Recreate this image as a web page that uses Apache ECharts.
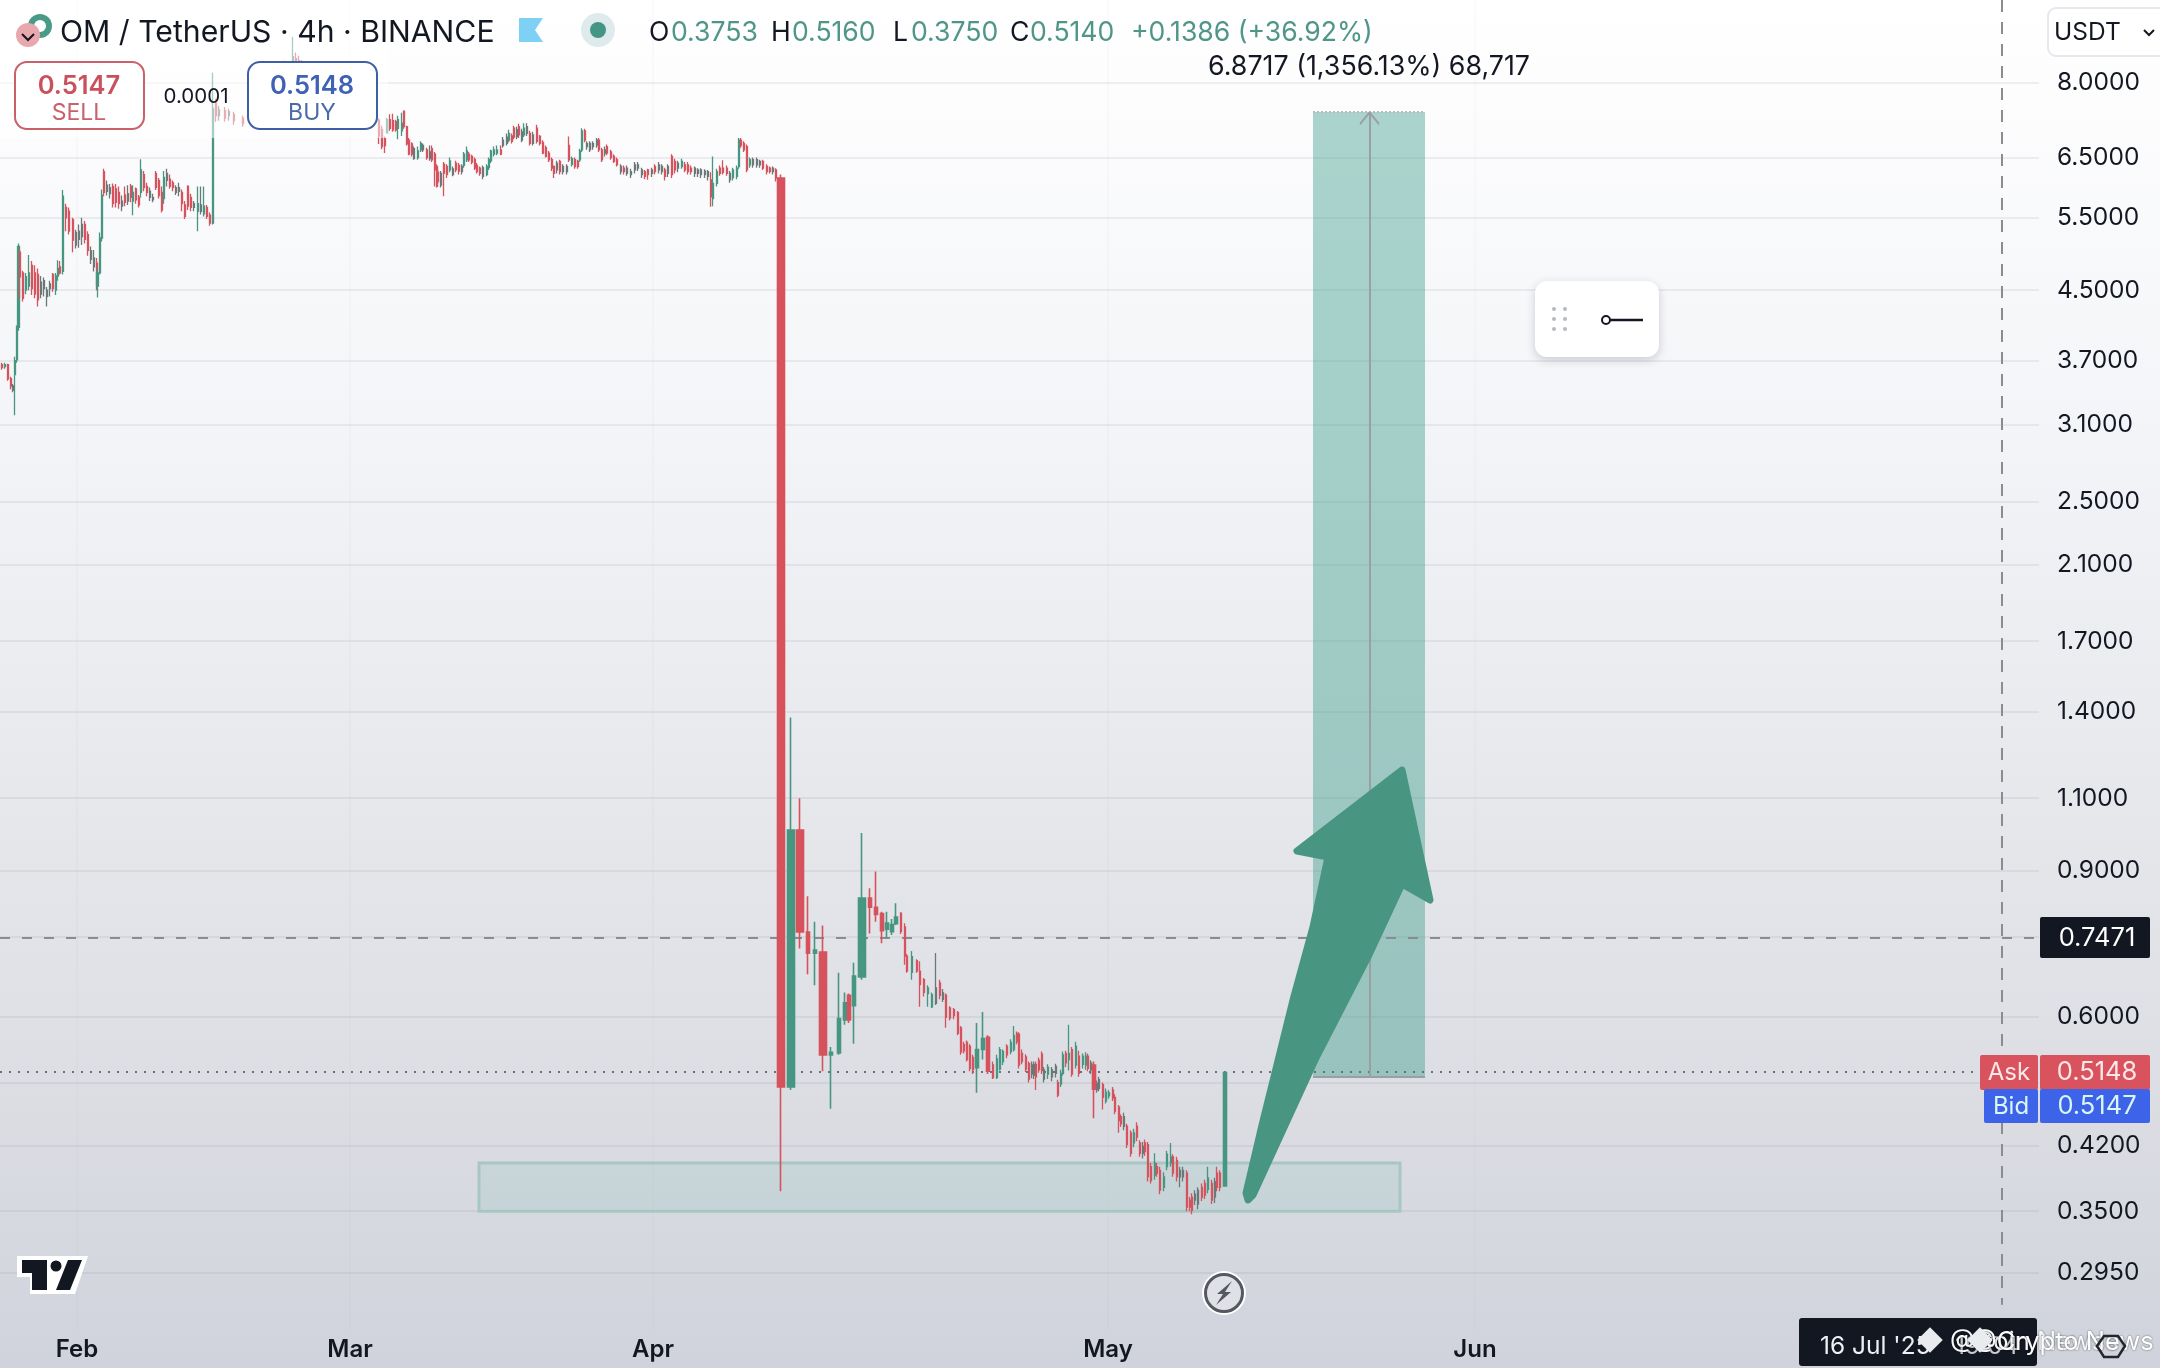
<!DOCTYPE html>
<html><head><meta charset="utf-8">
<style>html,body{margin:0;padding:0;background:#fff}#c{width:2160px;height:1368px}</style>
<script src="https://cdn.jsdelivr.net/npm/echarts@6/dist/echarts.min.js"></script>
</head><body><div id="c"></div>
<script>
// ---- axis values ----
const priceTicks = [8, 6.5, 5.5, 4.5, 3.7, 3.1, 2.5, 2.1, 1.7, 1.4, 1.1, 0.9, 0.75, 0.6, 0.5, 0.42, 0.35, 0.295];
const monthLabels = ['Feb', 'Mar', 'Apr', 'May', 'Jun'];
const monthSlots = [77, 350, 653, 1108, 1475];

// ---- reference levels ----
const lastPrice = 0.7471, askPrice = 0.5148, bidPrice = 0.5147;
const targetBox = {from: 1313, to: 1425, mid: 1369.5, low: 0.508, high: 7.376};
const supportZone = {from: 479, to: 1400, low: 0.35, high: 0.40};

// ---- candles: [slot, open, close, low, high] ----
const febCandles = [
[2,3.66,3.63,3.61,3.68],[5,3.64,3.66,3.62,3.68],[8,3.66,3.52,3.50,3.67],[11,3.52,3.45,3.42,3.54],
[15,3.56,3.70,3.18,3.74],[17,3.71,4.06,3.68,4.08],[18.5,4.06,5.08,4.02,5.12],
[20,5.00,4.67,4.40,5.04],[23,4.72,4.40,4.36,4.75],[26,4.50,4.67,4.45,4.72],[29,4.55,4.72,4.50,4.96],
[32,4.82,4.52,4.44,4.88],[35,4.72,4.45,4.40,4.82],[38,4.70,4.38,4.30,4.78],[53,4.70,4.52,4.48,4.72],
[56,4.50,4.68,4.44,4.72],[58,4.68,4.78,4.62,4.89],[60,4.80,4.72,4.70,4.88],[63,4.74,5.84,4.70,5.94],
[66,5.66,5.50,5.30,5.72],[69,5.60,5.30,5.25,5.66],[73,5.47,5.17,5.00,5.50],[85,5.40,5.18,5.12,5.45],
[88,5.25,5.02,4.95,5.30],[97,4.85,4.55,4.50,4.92],[97.5,4.55,4.72,4.41,4.78],[100,4.72,5.20,4.70,5.28],
[102,5.20,5.85,5.15,5.95],[104,6.25,5.90,5.84,6.30],[113,6.00,5.72,5.66,6.05],[116,5.96,5.74,5.66,6.04],
[119,5.90,5.72,5.64,6.00],[125,5.86,5.74,5.68,6.00],[131,6.00,5.82,5.74,6.04],[133,5.76,5.90,5.54,6.02],
[136,5.96,5.78,5.72,5.98],[139,5.82,5.70,5.66,5.86],[141,5.90,6.28,5.82,6.47],[144,6.20,5.98,5.92,6.26],
[147,6.00,5.90,5.84,6.06],[156,6.22,5.98,5.94,6.26],[159,6.10,5.85,5.80,6.14],[162,5.90,5.62,5.58,6.00],
[164,5.80,6.15,5.72,6.26],[170,6.12,6.00,5.96,6.20],[173,6.06,5.98,5.92,6.10],[182,5.90,5.72,5.60,5.95],
[185,5.70,5.52,5.48,5.76],[188,6.00,5.68,5.62,6.02],[191,5.82,5.66,5.60,5.88],[198,5.60,5.72,5.30,6.00],
[204,5.56,5.68,5.52,6.00],[207,5.66,5.52,5.48,5.70],[210,5.54,5.42,5.38,5.58],[213,5.42,7.45,5.40,8.22]
];
const peakCandles = [
[216,7.55,7.30,7.18,7.65],[225,7.40,7.25,7.18,7.48],[234,7.32,7.20,7.12,7.38],[243,7.25,7.14,7.08,7.30],
[255,7.30,7.70,7.25,7.80],[270,7.70,8.10,7.65,8.20],[285,8.10,8.40,8.05,8.50],[293,8.40,8.60,8.30,9.08],
[296,8.55,8.45,8.40,8.70],[299,8.50,8.42,8.38,8.62],[302,8.46,8.38,8.34,8.52],[320,8.38,8.10,8.05,8.45],
[340,8.10,7.75,7.70,8.18],[360,7.75,7.40,7.35,7.82],[372,7.40,7.25,7.20,7.46]
];
const marCandles = [
[379,7.21,6.90,6.75,7.25],[382,7.02,6.70,6.65,7.10],[385,6.85,6.72,6.58,6.89],[387,6.96,7.22,6.95,7.26],
[390,7.22,7.05,7.00,7.33],[393,7.20,7.02,6.98,7.34],[396,7.18,7.02,6.98,7.22],[398,7.05,7.22,6.84,7.30],
[402,7.00,7.15,6.90,7.36],[404,7.39,7.08,7.04,7.40],[407,7.08,6.75,6.72,7.10],[409,6.82,6.56,6.54,6.86],
[412,6.75,6.56,6.52,6.78],[418,6.50,6.62,6.46,6.70],[421,6.64,6.76,6.60,6.80],[427,6.64,6.50,6.46,6.68],
[432,6.66,6.46,6.42,6.72],[435,6.56,6.28,6.00,6.60],[437,6.34,6.00,5.98,6.38],[438,6.24,6.08,6.04,6.30],
[444,6.38,6.22,5.84,6.42],[447,6.34,6.20,6.14,6.38],[450,6.28,6.44,6.24,6.50],[456,6.40,6.28,6.24,6.44],
[459,6.36,6.26,6.20,6.40],[464,6.36,6.56,6.32,6.60],[467,6.46,6.62,6.42,6.70],[469,6.56,6.46,6.42,6.60],
[472,6.52,6.42,6.38,6.55],[475,6.46,6.31,6.28,6.50],[477,6.36,6.25,6.22,6.40],[480,6.31,6.22,6.18,6.34],
[487,6.20,6.34,6.17,6.38],[489,6.32,6.46,6.28,6.50],[491,6.44,6.62,6.40,6.64],[494,6.56,6.64,6.52,6.70],
[497,6.58,6.64,6.54,6.72],[501,6.64,6.56,6.54,6.72],[509,6.82,6.95,6.78,7.02],[512,6.90,6.80,6.76,6.95],
[514,7.05,6.88,6.84,7.10],[519,7.08,6.92,6.86,7.14],[524,6.92,7.05,6.88,7.15],[530,6.95,6.76,6.72,7.00],
[537,7.05,6.80,6.76,7.12],[540,6.89,6.76,6.72,6.92],[543,6.78,6.58,6.56,6.82],[546,6.68,6.52,6.50,6.72],
[549,6.58,6.46,6.42,6.62],[552,6.46,6.31,6.26,6.50],[554,6.34,6.22,6.14,6.36],[560,6.43,6.25,6.20,6.46],
[569,6.72,6.46,6.42,6.89],[572,6.38,6.48,6.34,6.52],[575,6.46,6.34,6.30,6.50],[578,6.43,6.34,6.30,6.46],
[580,6.46,6.62,6.42,6.66],[582,6.64,7.00,6.60,7.05],[585,7.00,6.82,6.78,7.04],[599,6.82,6.64,6.60,6.86],
[602,6.64,6.46,6.42,6.68],[607,6.70,6.58,6.54,6.74],[611,6.60,6.50,6.46,6.64],[614,6.52,6.43,6.40,6.56],
[617,6.46,6.37,6.34,6.50],[624,6.31,6.25,6.20,6.36],[645,6.25,6.17,6.12,6.28],[648,6.28,6.20,6.11,6.30],
[655,6.34,6.25,6.20,6.38],[665,6.28,6.17,6.10,6.32],[672,6.52,6.20,6.14,6.56],[675,6.43,6.28,6.22,6.48],
[682,6.34,6.43,6.30,6.48],[685,6.37,6.28,6.24,6.42],[688,6.37,6.25,6.20,6.42],[691,6.31,6.25,6.20,6.36]
];
const aprCandles = [
[711,6.11,5.83,5.67,6.24],[713,5.80,6.05,5.68,6.52],[717,6.05,6.25,6.00,6.30],[720,6.31,6.22,6.18,6.36],
[723,6.31,6.24,6.20,6.45],[727,6.31,6.22,6.18,6.36],[733,6.15,6.28,6.10,6.32],[737,6.17,6.31,6.12,6.36],
[739,6.34,6.82,6.30,6.86],[741,6.82,6.72,6.68,6.86],[744,6.76,6.64,6.60,6.80],[747,6.70,6.28,6.24,6.74],
[750,6.37,6.46,6.32,6.50],[763,6.43,6.31,6.28,6.46],[767,6.34,6.25,6.20,6.38],[770,6.31,6.25,6.22,6.34],
[776,6.28,6.14,6.08,6.31],
[901,0.800,0.760,0.755,0.802],[905,0.770,0.710,0.693,0.778],[907,0.710,0.681,0.678,0.714],[912,0.679,0.709,0.665,0.720],
[917,0.701,0.681,0.678,0.704],[920,0.681,0.656,0.617,0.700],[924,0.665,0.642,0.635,0.668],[928,0.640,0.650,0.617,0.655],
[932,0.617,0.638,0.615,0.642],[940,0.659,0.637,0.630,0.665],[946,0.637,0.599,0.582,0.640],[950,0.615,0.598,0.594,0.618],
[954,0.612,0.602,0.596,0.615],[958,0.607,0.573,0.570,0.610],[961,0.582,0.544,0.540,0.585],[964,0.556,0.546,0.542,0.560],
[967,0.559,0.533,0.530,0.562],[970,0.553,0.520,0.516,0.556],[973,0.536,0.518,0.512,0.540]
];
const mayCandles = [
[993,0.525,0.507,0.505,0.530],[997,0.507,0.534,0.505,0.540],[1000,0.519,0.548,0.517,0.552],[1003,0.530,0.545,0.525,0.548],
[1007,0.553,0.540,0.535,0.556],[1011,0.545,0.559,0.541,0.564],[1014,0.548,0.570,0.545,0.585],[1017,0.573,0.560,0.556,0.576],
[1019,0.572,0.525,0.520,0.575],[1022,0.542,0.530,0.526,0.548],[1026,0.537,0.519,0.515,0.541],[1029,0.527,0.505,0.500,0.530],
[1036,0.526,0.508,0.490,0.530],[1039,0.532,0.518,0.514,0.536],[1042,0.541,0.517,0.512,0.545],[1048,0.512,0.522,0.505,0.526],
[1058,0.500,0.483,0.480,0.504],[1061,0.498,0.513,0.494,0.518],[1063,0.513,0.540,0.510,0.545],[1066,0.542,0.528,0.522,0.546],
[1069,0.533,0.542,0.517,0.587],[1072,0.548,0.512,0.508,0.552],[1076,0.525,0.553,0.520,0.560],[1079,0.538,0.513,0.508,0.546],
[1083,0.526,0.538,0.520,0.542],[1086,0.525,0.538,0.518,0.544],[1088,0.538,0.520,0.516,0.542],
[1103,0.497,0.480,0.464,0.500],[1106,0.475,0.487,0.472,0.492],[1109,0.482,0.486,0.478,0.490],[1113,0.490,0.479,0.475,0.494],
[1115,0.480,0.462,0.458,0.484],[1119,0.467,0.450,0.435,0.470],[1121,0.455,0.446,0.442,0.458],[1127,0.443,0.421,0.417,0.446],
[1131,0.435,0.411,0.407,0.438],[1134,0.423,0.435,0.418,0.440],[1137,0.443,0.430,0.425,0.448],[1140,0.423,0.411,0.407,0.426],
[1145,0.423,0.413,0.408,0.427],[1148,0.421,0.385,0.380,0.424],[1151,0.396,0.381,0.378,0.400],[1155,0.387,0.400,0.382,0.411],
[1157,0.396,0.389,0.385,0.400],[1160,0.392,0.371,0.367,0.396],[1164,0.374,0.385,0.370,0.390],[1167,0.396,0.410,0.392,0.414],
[1171,0.400,0.407,0.396,0.423],[1173,0.407,0.389,0.385,0.410],[1177,0.403,0.385,0.380,0.407],[1187,0.389,0.354,0.350,0.392],
[1190,0.361,0.354,0.350,0.364],[1192,0.364,0.351,0.347,0.368],[1202,0.374,0.364,0.360,0.378],[1205,0.378,0.366,0.362,0.382],
[1208,0.372,0.384,0.368,0.396],[1212,0.378,0.361,0.357,0.382],[1217,0.389,0.374,0.370,0.396],[1220,0.389,0.374,0.370,0.392]
];
// dense stretches where red and green bars blur into grey
const blendCandles = [
[13,3.45,3.41,3.39,3.47],[41,4.60,4.45,4.40,4.68],[44,4.52,4.62,4.42,4.66],[47,4.42,4.50,4.30,4.54],[50,4.52,4.58,4.42,4.62],
[76,5.10,5.28,5.05,5.32],[79,5.18,5.30,5.06,5.40],[82,5.22,5.40,5.10,5.50],[91,5.02,4.90,4.84,5.08],[94,4.92,4.80,4.74,5.03],
[107,6.02,5.92,5.85,6.10],[110,5.98,5.88,5.80,6.04],[122,5.76,5.68,5.60,5.85],[128,5.76,5.88,5.70,6.02],[150,5.92,5.82,5.76,5.98],
[153,5.82,5.78,5.74,5.88],[167,6.10,6.22,6.00,6.30],[176,5.98,5.90,5.86,6.02],[179,5.92,5.98,5.84,6.06],[194,5.72,5.66,5.60,5.76],
[201,5.70,5.60,5.55,6.00],[219,7.30,7.42,7.20,7.50],[229,7.30,7.38,7.20,7.44],[414,6.48,6.66,6.46,6.70],[423,6.72,6.64,6.60,6.76],
[430,6.60,6.48,6.44,6.72],[441,6.02,6.22,5.98,6.26],[453,6.30,6.20,6.17,6.34],[462,6.34,6.25,6.20,6.38],[483,6.32,6.17,6.12,6.36],
[503,6.72,6.82,6.68,6.88],[507,6.76,6.88,6.72,6.95],[517,7.02,6.89,6.84,7.08],[522,6.98,6.82,6.78,7.04],[527,7.08,6.95,6.90,7.15],
[533,6.92,6.76,6.72,6.98],[557,6.40,6.28,6.22,6.44],[563,6.34,6.25,6.20,6.38],[567,6.34,6.25,6.20,6.38],[587,6.76,6.70,6.64,6.80],
[590,6.76,6.64,6.60,6.80],[593,6.76,6.70,6.64,6.80],[597,6.82,6.73,6.68,6.86],[605,6.64,6.58,6.52,6.70],[621,6.34,6.25,6.20,6.38],
[627,6.31,6.22,6.18,6.36],[631,6.25,6.20,6.14,6.30],[635,6.37,6.28,6.22,6.42],[638,6.37,6.31,6.26,6.42],[642,6.28,6.20,6.14,6.32],
[652,6.28,6.22,6.16,6.32],[659,6.37,6.28,6.22,6.42],[662,6.34,6.25,6.20,6.38],[668,6.34,6.22,6.16,6.38],[678,6.40,6.31,6.24,6.44],
[695,6.31,6.22,6.16,6.34],[698,6.28,6.22,6.16,6.31],[701,6.28,6.20,6.14,6.31],[705,6.26,6.20,6.14,6.29],[708,6.25,6.17,6.10,6.28],
[730,6.22,6.11,6.06,6.26],[753,6.46,6.37,6.32,6.50],[757,6.46,6.37,6.32,6.50],[760,6.43,6.37,6.32,6.46],[773,6.31,6.25,6.20,6.34],
[936,0.623,0.650,0.620,0.716],[943,0.641,0.630,0.625,0.648],
[1032,0.525,0.512,0.506,0.530],[1034,0.526,0.510,0.505,0.530],[1044,0.518,0.505,0.500,0.522],[1052,0.518,0.508,0.502,0.522],
[1056,0.523,0.513,0.507,0.527],[1091,0.528,0.518,0.512,0.532],[1097,0.499,0.490,0.486,0.503],[1099,0.504,0.492,0.488,0.508],
[1124,0.455,0.443,0.438,0.460],[1143,0.419,0.411,0.405,0.424],[1180,0.392,0.385,0.374,0.396],[1183,0.392,0.385,0.380,0.396],
[1195,0.367,0.361,0.356,0.371],[1198,0.371,0.357,0.352,0.374],[1215,0.380,0.364,0.358,0.384]
];
const midCandles = [
[808,0.759,0.716,0.675,0.838],[815,0.716,0.722,0.655,0.781],[831,0.540,0.544,0.465,0.552],[839,0.543,0.597,0.540,0.678],
[854,0.619,0.672,0.557,0.697],[870,0.834,0.813,0.756,0.857],[876,0.813,0.797,0.781,0.898],[882,0.799,0.762,0.736,0.803],
[887,0.765,0.778,0.746,0.803],[892,0.760,0.775,0.753,0.787],[896,0.777,0.791,0.774,0.822],[845,0.595,0.624,0.587,0.642],
[849,0.637,0.595,0.590,0.640],[977,0.521,0.548,0.486,0.590],[983,0.548,0.565,0.533,0.608],[988,0.567,0.516,0.512,0.570],
[1094,0.525,0.491,0.453,0.530],[1225,0.3753,0.5140,0.3750,0.5160]
];
const wideCandles = [
[781,6.14,0.494,0.370,6.20],[791,0.494,1.007,0.490,1.376],[800,1.007,0.759,0.725,1.10],[823,0.718,0.540,0.516,0.773],[862,0.670,0.834,0.665,0.999]
];

// ---- drawing ----
const UP = '#469682', DOWN = '#d6525c', BLEND = '#6c7877', INK = '#131722';
const FONT = 'Inter';
const thin = [...febCandles, ...peakCandles, ...marCandles, ...aprCandles, ...mayCandles];
const toItem = r => [r[0], r[1], r[2], r[3], r[4]];
const candle = (name, rows, width, bw, up, down) => ({
  name, type: 'candlestick', data: rows.map(toItem), barWidth: width, z: 3, large: false, clip: true,
  itemStyle: {color: up, color0: down, borderColor: up, borderColor0: down, borderWidth: bw},
  emphasis: {disabled: true}, silent: true, animation: false
});

const chart = echarts.init(document.getElementById('c'), null, {renderer: 'canvas', width: 2160, height: 1368});

const T = (x, y, text, fontSize, fill, extra) => ({type: 'text', z: 50, x, y: y + 1.5, style: Object.assign({x: 0, y: 0, text, fontSize, fill, fontFamily: FONT, verticalAlign: 'middle', align: 'left'}, extra || {})});
const R = (x, y, w, h, fill, r, extra) => ({type: 'rect', z: 49, shape: {x, y, width: w, height: h, r: r || 0}, style: Object.assign({fill}, extra || {})});
const tag = (x, w, y, h, fill) => R(x, y, w, h, fill, 2);

const overlay = [
  // fade of the legend area
  R(0, 0, 388, 138, 'rgba(255,255,255,0.52)', 0),
  // icons
  {type: 'circle', z: 49, shape: {cx: 40, cy: 26, r: 12}, style: {fill: '#4a9a88'}},
  {type: 'circle', z: 49, shape: {cx: 40, cy: 26, r: 6}, style: {fill: '#fff'}},
  {type: 'circle', z: 50, shape: {cx: 28, cy: 35, r: 12}, style: {fill: '#e9a8ad'}},
  {type: 'polyline', z: 51, shape: {points: [[22, 34], [28, 40], [34, 34]]}, style: {stroke: INK, lineWidth: 2, fill: 'none'}},
  {type: 'polygon', z: 49, shape: {points: [[519, 18], [543, 18], [535, 30], [543, 42], [519, 42]]}, style: {fill: '#7fd0f5'}},
  {type: 'circle', z: 49, shape: {cx: 598, cy: 30, r: 17}, style: {fill: '#dfeaed'}},
  {type: 'circle', z: 50, shape: {cx: 598, cy: 30, r: 8}, style: {fill: '#459584'}},
  // header text
  T(60, 31, 'OM / TetherUS · 4h · BINANCE', 30.2, INK),
  T(649, 31, 'O', 26.6, INK), T(671, 31, '0.3753', 26.6, '#4f9688'),
  T(771, 31, 'H', 26.6, INK), T(792, 31, '0.5160', 26.6, '#4f9688'),
  T(893, 31, 'L', 26.6, INK), T(911, 31, '0.3750', 26.6, '#4f9688'),
  T(1010, 31, 'C', 26.6, INK), T(1030, 31, '0.5140', 26.6, '#4f9688'),
  T(1131, 31, '+0.1386 (+36.92%)', 26.6, '#4f9688'),
  // sell / buy
  R(15, 62, 129, 67, '#fff', 12, {stroke: '#c9606a', lineWidth: 2}),
  T(79, 84.5, '0.5147', 25.5, '#c8515c', {align: 'center', fontWeight: 600}),
  T(79, 112, 'SELL', 23, '#c8626c', {align: 'center'}),
  T(196, 95.5, '0.0001', 20.5, INK, {align: 'center'}),
  R(248, 62, 129, 67, '#fff', 12, {stroke: '#3f5ea8', lineWidth: 2}),
  T(312, 84.5, '0.5148', 25.5, '#3f62b5', {align: 'center', fontWeight: 600}),
  T(312, 112, 'BUY', 23, '#4a6aa8', {align: 'center'}),
  // currency button
  R(2048, 8, 120, 48, '#fff', 8, {stroke: '#e6e8ee', lineWidth: 2}),
  T(2054, 31.5, 'USDT', 24.5, INK),
  {type: 'polyline', z: 51, shape: {points: [[2144, 30], [2149, 35], [2154, 30]]}, style: {stroke: INK, lineWidth: 2, fill: 'none'}},
  // floating line tool
  R(1535, 281, 124, 76, '#fff', 12, {shadowBlur: 10, shadowColor: 'rgba(40,50,80,0.22)', shadowOffsetY: 3}),
  ...[1554, 1565].flatMap(x => [309, 319, 329].map(y => ({type: 'circle', z: 50, shape: {cx: x, cy: y, r: 2}, style: {fill: '#b5bac2'}}))),
  {type: 'circle', z: 51, shape: {cx: 1606, cy: 320, r: 4}, style: {fill: '#fff', stroke: INK, lineWidth: 2}},
  {type: 'line', z: 50, shape: {x1: 1610, y1: 320, x2: 1643, y2: 320}, style: {stroke: INK, lineWidth: 2.5}},
  // hand-drawn arrow
  {type: 'polygon', z: 40, shape: {points: [[1248, 1200], [1253, 1195], [1315, 1060], [1368, 957], [1402, 884], [1430, 900], [1402, 770], [1297, 851], [1328, 857], [1313, 927], [1293, 1000], [1262, 1125], [1246, 1193]]},
    style: {fill: '#489682', stroke: '#489682', lineWidth: 7, lineJoin: 'round'}},
  // tradingview mark
  {type: 'polygon', z: 49, shape: {points: [[17, 1256], [88, 1256], [75, 1294], [30, 1294], [30, 1277], [17, 1277]]}, style: {fill: '#fff'}},
  {type: 'polygon', z: 50, shape: {points: [[22, 1260], [47, 1260], [47, 1290], [32, 1290], [32, 1273], [22, 1273]]}, style: {fill: INK}},
  {type: 'circle', z: 50, shape: {cx: 56, cy: 1266, r: 5.5}, style: {fill: INK}},
  {type: 'polygon', z: 50, shape: {points: [[68, 1260], [82, 1260], [70, 1290], [56, 1290]]}, style: {fill: INK}},
  // lightning badge
  {type: 'circle', z: 49, shape: {cx: 1224, cy: 1293, r: 22}, style: {fill: '#fff'}},
  {type: 'circle', z: 50, shape: {cx: 1224, cy: 1293, r: 18.5}, style: {fill: '#dfe1e6', stroke: '#55595f', lineWidth: 3}},
  {type: 'polygon', z: 51, shape: {points: [[1232, 1281], [1217, 1294], [1223, 1294], [1216, 1305], [1231, 1292], [1225, 1292]]}, style: {fill: '#55595f'}},
  // price tags
  tag(2040, 110, 917, 41, INK), T(2097, 936.5, '0.7471', 25.5, '#fff', {align: 'center'}),
  tag(1980, 58, 1055, 35, '#d9535f'), tag(2040, 110, 1055, 35, '#d9535f'),
  T(2009, 1071, 'Ask', 24, '#fde8e8', {align: 'center'}), T(2097, 1071, '0.5148', 25.5, '#fde8e8', {align: 'center'}),
  tag(1984, 54, 1089, 34, '#3d63e8'), tag(2040, 110, 1089, 34, '#3d63e8'),
  T(2011, 1105, 'Bid', 24, '#d8f6f4', {align: 'center'}), T(2097, 1105, '0.5147', 25.5, '#d8f6f4', {align: 'center'}),
  // date tag and repost watermarks
  R(1799, 1318, 238, 48, INK, 3),
  T(1820, 1345, "16 Jul '25", 24.5, '#eef0f4'),
  T(1955, 1345, '19:04', 24.5, '#c9ccd2'),
  {type: 'polygon', z: 52, shape: {points: [[2097, 1346], [2104, 1336], [2118, 1336], [2125, 1346], [2118, 1357], [2104, 1357]]}, style: {fill: 'none', stroke: '#22262e', lineWidth: 2.5}},
  {type: 'rect', z: 53, rotation: Math.PI / 4, originX: 1930, originY: 1340, shape: {x: 1921, y: 1331, width: 18, height: 18}, style: {fill: '#e9ebef'}},
  {type: 'rect', z: 53, rotation: Math.PI / 4, originX: 1980, originY: 1340, shape: {x: 1971, y: 1331, width: 18, height: 18}, style: {fill: '#e9ebef'}},
  T(1950, 1341, '@Coin Newss', 25.5, '#f7f8fa', {textShadowBlur: 2, textShadowColor: 'rgba(0,0,0,0.6)'}),
  T(1972, 1341, '@Crypto News', 25.5, '#ffffff', {textShadowBlur: 2, textShadowColor: 'rgba(0,0,0,0.6)'})
];

const guide = {
  name: 'guides', type: 'line', data: [], z: 1, silent: true, animation: false,
  markArea: {silent: true, z: 1, animation: false, data: [
    [{xAxis: supportZone.from, yAxis: supportZone.high, itemStyle: {color: 'rgba(140,195,190,0.22)', borderColor: '#a8c7c4', borderWidth: 3}},
     {xAxis: supportZone.to, yAxis: supportZone.low}],
    [{xAxis: targetBox.from, yAxis: targetBox.high, itemStyle: {color: 'rgba(60,158,140,0.43)'},
      label: {show: true, position: 'top', distance: 31, formatter: '6.8717 (1,356.13%) 68,717', fontFamily: FONT, fontSize: 26.8, color: INK}},
     {xAxis: targetBox.to, yAxis: targetBox.low}]
  ]},
  markLine: {silent: true, animation: false, symbol: 'none', z: 2, label: {show: false}, data: [
    [{coord: [0, lastPrice], lineStyle: {color: '#8a8c92', width: 2, type: [10, 12]}}, {coord: [2039, lastPrice]}],
    [{coord: [0, askPrice], lineStyle: {color: '#66727a', width: 2, type: [2, 7]}}, {coord: [1980, askPrice]}],
    [{coord: [2002, 10.06], lineStyle: {color: '#8a8c92', width: 2, type: [12, 10]}}, {coord: [2002, 0.27]}],
    [{coord: [targetBox.from, targetBox.low], lineStyle: {color: '#9aa0a2', width: 2, type: 'solid'}}, {coord: [targetBox.to, targetBox.low]}],
    [{coord: [targetBox.from, targetBox.high], lineStyle: {color: '#b4bcbc', width: 2, type: [2, 2]}}, {coord: [targetBox.to, targetBox.high]}],
    [{coord: [targetBox.mid, targetBox.low], symbol: 'none', symbolSize: 14, lineStyle: {color: '#9aa0a2', width: 2, type: 'solid'}},
     {coord: [targetBox.mid, targetBox.high], symbol: 'path://M0 20L20 0L40 20L38 23L20 5L2 23Z', symbolSize: [20, 14], symbolOffset: [0, 6]}]
  ]}
};

chart.setOption({
  animation: false,
  backgroundColor: {type: 'linear', x: 0, y: 0, x2: 0, y2: 1, colorStops: [
    {offset: 0, color: '#ffffff'}, {offset: 0.3, color: '#f4f5f8'}, {offset: 0.6, color: '#e6e7eb'},
    {offset: 0.75, color: '#dfe0e5'}, {offset: 1, color: '#d0d3dc'}]},
  grid: {left: 0, top: 0, width: 2039, height: 1330, containLabel: false},
  xAxis: {
    type: 'value', min: 0, max: 2039, axisLine: {show: false}, axisTick: {show: false, customValues: monthSlots},
    splitLine: {show: true, lineStyle: {color: 'rgba(120,125,140,0.03)', width: 2}},
    axisLabel: {customValues: monthSlots, formatter: v => monthLabels[monthSlots.indexOf(v)] || '', fontFamily: FONT, fontSize: 24, fontWeight: 600, color: INK, margin: 8}
  },
  yAxis: {
    type: 'log', logBase: Math.E, position: 'right', min: 0.2518, max: 10.06, axisLine: {show: false}, axisTick: {show: false, customValues: priceTicks},
    splitLine: {show: true, lineStyle: {color: 'rgba(115,120,135,0.11)', width: 2}},
    axisLabel: {customValues: priceTicks, formatter: v => Number(v).toFixed(4), fontFamily: FONT, fontSize: 24.5, color: INK, margin: 18, align: 'left', padding: [3, 0, 0, 0]}
  },
  series: [
    guide,
    candle('thin', thin, 2, 1.3, UP, DOWN),
    candle('blend', blendCandles, 2, 1.3, BLEND, BLEND),
    candle('mid', midCandles, 4, 1.6, UP, DOWN),
    candle('wide', wideCandles, 7, 1.6, UP, DOWN)
  ],
  graphic: {elements: overlay}
});
</script></body></html>
